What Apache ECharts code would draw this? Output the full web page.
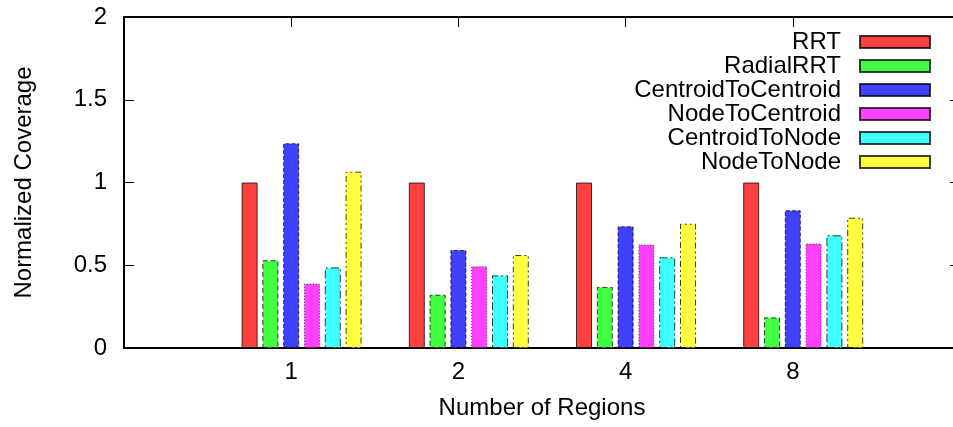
<!DOCTYPE html>
<html>
<head>
<meta charset="utf-8">
<script src="https://cdn.jsdelivr.net/npm/echarts@6/dist/echarts.min.js"></script>
<style>html,body{margin:0;padding:0;background:#fff}#c{width:953px;height:427px}</style>
</head>
<body>
<div id="c"></div>
<script>
const categories = ['1', '2', '4', '8'];
const seriesNames = ['RRT', 'RadialRRT', 'CentroidToCentroid', 'NodeToCentroid', 'CentroidToNode', 'NodeToNode'];
const rrt = [1.0, 1.0, 1.0, 1.0];
const radialRRT = [0.53, 0.322, 0.369, 0.185];
const centroidToCentroid = [1.237, 0.592, 0.735, 0.832];
const nodeToCentroid = [0.389, 0.494, 0.626, 0.632];
const centroidToNode = [0.487, 0.439, 0.548, 0.681];
const nodeToNode = [1.065, 0.562, 0.751, 0.787];
const yTicks = [0, 0.5, 1, 1.5, 2];

const seriesValues = [rrt, radialRRT, centroidToCentroid, nodeToCentroid, centroidToNode, nodeToNode];
const colors = ['#ff4040', '#40ff40', '#4040ff', '#ff40ff', '#40ffff', '#ffff40'];
const dashes = ['solid', [5, 3], [4, 2], [1, 2], [8, 3, 2, 3], [6, 3, 2, 3, 2, 3]];
const FONT = "'Liberation Sans', Arial, Helvetica, sans-serif";
const FS = 24;

const axisCats = [''].concat(categories).concat(['']);
const pad = arr => ['-'].concat(arr).concat(['-']);

const series = [{
  name: '_gap', type: 'bar', data: pad(categories.map(() => '-')),
  barWidth: 16, barGap: '30%', itemStyle: { color: 'transparent' }, silent: true
}].concat(seriesNames.map((n, i) => ({
  name: n, type: 'bar', data: pad(seriesValues[i]),
  barWidth: 16, barGap: '30%',
  itemStyle: { color: colors[i], borderColor: 'rgba(0,0,0,0.75)', borderWidth: 1, borderType: dashes[i] }
})));

const chart = echarts.init(document.getElementById('c'), null, { renderer: 'canvas' });
chart.setOption({
  animation: false,
  backgroundColor: '#fff',
  textStyle: { fontFamily: FONT },
  grid: { left: 124, width: 836, top: 17, bottom: 79, containLabel: false, outerBoundsMode: 'none' },
  legend: {
    data: seriesNames, orient: 'vertical', right: 22, top: 30, align: 'right', padding: 0,
    icon: 'rect', itemWidth: 70, itemHeight: 12, itemGap: 0,
    textStyle: { fontFamily: FONT, fontSize: FS, lineHeight: 24, color: '#000', padding: [0, 14, 0, 0] },
    selectedMode: false
  },
  xAxis: [{
    type: 'category', data: axisCats, boundaryGap: false, position: 'bottom',
    axisLine: { onZero: false, lineStyle: { color: '#000', width: 2 } },
    axisTick: { show: false },
    axisLabel: { color: '#000', fontSize: FS, fontFamily: FONT, margin: 12, interval: 0,
      formatter: v => v },
    name: 'Number of Regions', nameLocation: 'middle', nameGap: 48,
    nameTextStyle: { color: '#000', fontSize: FS, fontFamily: FONT },
    splitLine: { show: false }
  }, {
    type: 'category', data: axisCats, boundaryGap: false, position: 'top',
    axisLine: { onZero: false, lineStyle: { color: '#000', width: 2 } },
    axisTick: { inside: true, length: 10, lineStyle: { color: '#000' } },
    axisLabel: { show: false }, splitLine: { show: false }
  }],
  yAxis: [{
    type: 'value', min: yTicks[0], max: yTicks[yTicks.length - 1], interval: 0.5, position: 'left',
    axisLine: { show: true, lineStyle: { color: '#000', width: 2 } },
    axisTick: { show: true, inside: true, length: 10, lineStyle: { color: '#000' } },
    axisLabel: { color: '#000', fontSize: FS, fontFamily: FONT, margin: 17 },
    name: 'Normalized Coverage', nameLocation: 'middle', nameGap: 88,
    nameTextStyle: { color: '#000', fontSize: FS, fontFamily: FONT },
    splitLine: { show: false }
  }, {
    type: 'value', min: yTicks[0], max: yTicks[yTicks.length - 1], interval: 0.5, position: 'right',
    axisLine: { show: true, lineStyle: { color: '#000', width: 2 } },
    axisTick: { show: true, inside: true, length: 10, lineStyle: { color: '#000' } },
    axisLabel: { show: false }, splitLine: { show: false }
  }],
  series: series
});
</script>
</body>
</html>
